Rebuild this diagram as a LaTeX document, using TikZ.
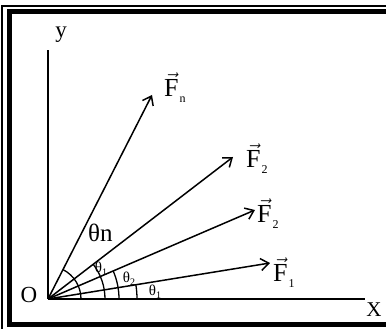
\documentclass[tikz,border=0pt]{standalone}
\usepackage{fontspec}
\setmainfont{Liberation Serif}
\usetikzlibrary{arrows.meta}
\newcommand\Fvec[1]{\fontsize{26}{26}\selectfont$\vec{\hbox{F}}$\kern1pt\raisebox{-6pt}{\fontsize{12}{12}\selectfont #1}}
\newcommand\thsub[1]{\fontsize{15}{15}\selectfont θ\raisebox{-3pt}{\fontsize{10}{10}\selectfont #1}}
\begin{document}
\begin{tikzpicture}[x=1pt,y=1pt,
  vec/.style={line width=1.5pt,-{Straight Barb[length=8pt,width=12pt]}},
  ang/.style={line width=1.3pt},
  lbl/.style={inner sep=0pt,anchor=base west},
  clbl/.style={inner sep=0pt,anchor=center},
  ]
\useasboundingbox (0,0) rectangle (386,329);
\fill[white] (0,0) rectangle (386,329);
% frame
\draw[line width=5pt] (400,317.3) -- (9.2,317.3) -- (9.2,4.8) -- (400,4.8);
\draw[line width=1.2pt] (400,323) -- (2,323) -- (2,-5);
% axes
\coordinate (O) at (48,30);
\coordinate (xe) at (365,30);
\coordinate (ye) at (48,279);
\draw[line width=1.8pt] (O) -- (xe);
\draw[line width=1.3pt] (O) -- (ye);
% vector tips
\coordinate (t1) at (270,66);
\coordinate (t2) at (255,119);
\coordinate (t3) at (233,172);
\coordinate (tn) at (152,234);
\draw[vec] (O) -- (t1);
\draw[vec] (O) -- (t2);
\draw[vec] (O) -- (t3);
\draw[vec] (O) -- (tn);
% angle arcs
\draw[ang] ([shift={(0:33)}]O) arc[start angle=0,end angle=63.1,radius=33];
\draw[ang] ([shift={(0:57)}]O) arc[start angle=0,end angle=37.5,radius=57];
\draw[ang] ([shift={(0:71)}]O) arc[start angle=0,end angle=23.3,radius=71];
\draw[ang] ([shift={(0:89)}]O) arc[start angle=0,end angle=9.2,radius=89];
% labels
\node[clbl,font=\fontsize{23}{23}\selectfont] (lO) at (29,34) {O};
\node[clbl,font=\fontsize{23}{23}\selectfont] (ly) at (61,294) {y};
\node[clbl,font=\fontsize{21}{21}\selectfont] (lx) at (374,19) {X};
\node[lbl] (lF1) at (273,47) {\Fvec{1}};
\node[lbl] (lF2a) at (257,106) {\Fvec{2}};
\node[lbl] (lF2b) at (246,161) {\Fvec{2}};
\node[lbl] (lFn) at (164,232) {\Fvec{n}};
\node[lbl,font=\fontsize{25}{25}\selectfont] (lthn) at (88,87) {θn};
\node[clbl] (lth1a) at (101,60) {\thsub{1}};
\node[clbl] (lth2) at (129,50) {\thsub{2}};
\node[clbl] (lth1b) at (155,37) {\thsub{1}};
\end{tikzpicture}
\end{document}
